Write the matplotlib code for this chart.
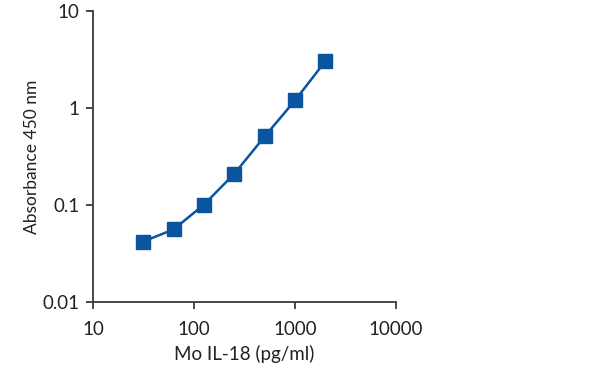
import matplotlib
matplotlib.use("Agg")
import matplotlib.pyplot as plt
from matplotlib.ticker import FixedLocator, FixedFormatter, NullLocator

conc = [31.25, 62.5, 125, 250, 500, 1000, 2000]
absorbance = [0.042, 0.056, 0.101, 0.21, 0.51, 1.2, 3.05]
xticks = [10, 100, 1000, 10000]
xticklabels = ["10", "100", "1000", "10000"]
yticks = [0.01, 0.1, 1, 10]
yticklabels = ["0.01", "0.1", "1", "10"]

plt.rcParams['font.family'] = ['Lato', 'DejaVu Sans']
color = '#0a55a0'
axis_col = '#3a3a3a'

fig = plt.figure(figsize=(6, 3.85), dpi=100)
ax = fig.add_axes([0.1555, 0.2156, 0.5045, 0.7558])
ax.plot(conc, absorbance, color=color, lw=1.8, marker='s', ms=10,
        mec=color, mfc=color, zorder=3, clip_on=False)
ax.set_xscale('log')
ax.set_yscale('log')
ax.set_xlim(10, 10000)
ax.set_ylim(0.01, 10)
ax.xaxis.set_major_locator(FixedLocator(xticks))
ax.xaxis.set_major_formatter(FixedFormatter(xticklabels))
ax.yaxis.set_major_locator(FixedLocator(yticks))
ax.yaxis.set_major_formatter(FixedFormatter(yticklabels))
ax.xaxis.set_minor_locator(NullLocator())
ax.yaxis.set_minor_locator(NullLocator())
for s in ['top', 'right']:
    ax.spines[s].set_visible(False)
for s in ['left', 'bottom']:
    ax.spines[s].set_color(axis_col)
    ax.spines[s].set_linewidth(1.3)
ax.tick_params(axis='both', which='major', length=5, width=1.3, color=axis_col,
               labelsize=13.5, labelcolor='#222222', direction='out')
ax.tick_params(axis='x', pad=9)
ax.tick_params(axis='y', pad=5)
ax.set_xlabel("Mo IL-18 (pg/ml)", fontsize=13.5, color='#222222', labelpad=5)
ax.set_ylabel("Absorbance 450 nm", fontsize=12.5, color='#222222', labelpad=2)
fig.savefig("out.png", dpi=100)
